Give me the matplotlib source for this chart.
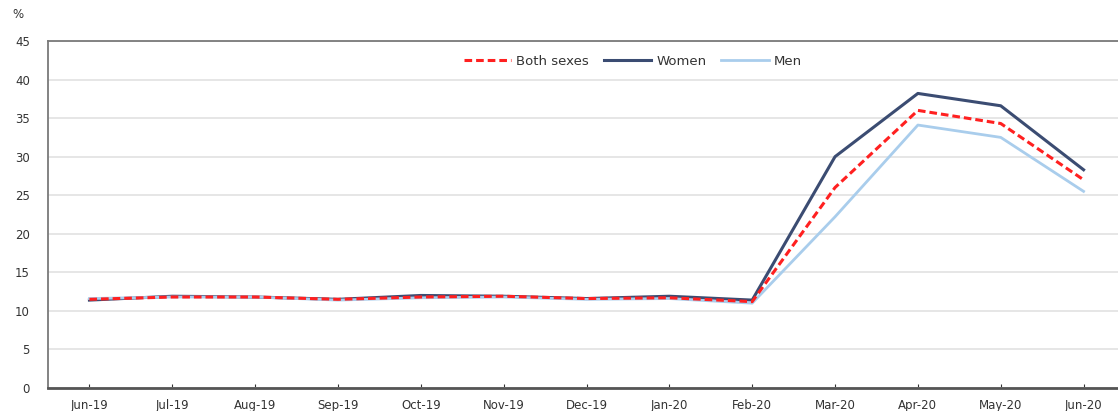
import matplotlib.pyplot as plt

# monthly values, %
months = ["Jun-19", "Jul-19", "Aug-19", "Sep-19", "Oct-19", "Nov-19", "Dec-19",
          "Jan-20", "Feb-20", "Mar-20", "Apr-20", "May-20", "Jun-20"]
both = [11.5, 11.8, 11.8, 11.5, 11.8, 11.9, 11.6, 11.7, 11.2, 26.0, 36.0, 34.3, 27.0]
women = [11.4, 11.9, 11.8, 11.5, 12.0, 11.9, 11.6, 11.9, 11.4, 30.0, 38.2, 36.6, 28.3]
men = [11.6, 11.8, 11.8, 11.4, 11.7, 11.8, 11.5, 11.6, 11.0, 22.2, 34.1, 32.5, 25.5]

plt.rcParams['font.family'] = ['DejaVu Sans']

fig = plt.figure(figsize=(11.18, 4.11), dpi=100)
ax = fig.add_axes([48 / 1118, 1 - 388 / 411, (1125 - 48) / 1118, (388 - 41) / 411])

x = list(range(len(months)))
ax.plot(x, women, color="#3B4C72", lw=2.2, label="Women", zorder=3)
ax.plot(x, men, color="#A9CDEC", lw=2.0, label="Men", zorder=3)
ax.plot(x, both, color="#FF2020", lw=2.2, ls=(0, (2.5, 1.3)), label="Both sexes", zorder=4)

ax.set_xlim(-0.5, len(months) - 0.5)
ax.set_ylim(0, 45)
ax.set_yticks(range(0, 46, 5))
ax.set_xticks(x)
ax.set_xticklabels(months)
ax.grid(axis='y', color="#E2E2E2", lw=1.2)
ax.set_axisbelow(True)

for s in ax.spines.values():
    s.set_color("#7A7A7A")
    s.set_linewidth(1.3)
ax.spines['bottom'].set_color("#555555")
ax.spines['bottom'].set_linewidth(2)

ax.tick_params(axis='y', length=0, labelsize=8.5, colors="#333333", pad=13)
ax.tick_params(axis='x', direction='in', length=3, labelsize=8.5, colors="#333333",
               labelcolor="#333333", pad=8)

handles, labels = ax.get_legend_handles_labels()
order = [2, 0, 1]
ax.legend([handles[i] for i in order], [labels[i] for i in order],
          loc='upper center', bbox_to_anchor=(0.543, 0.995), ncol=3, frameon=False,
          fontsize=9.5, handlelength=3.6, columnspacing=1.1, handletextpad=0.4,
          labelcolor="#333333")

fig.text(12 / 1118, 1 - 15 / 411, "%", fontsize=8.5, color="#333333", va='center')

fig.savefig("out.png", dpi=100)
